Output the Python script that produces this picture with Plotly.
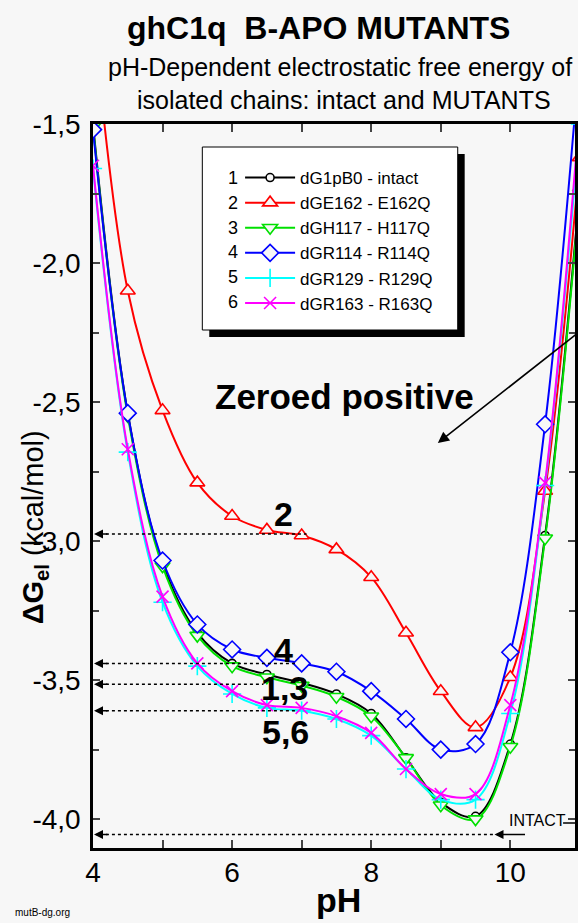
import plotly.graph_objects as go

# ---------------- data ----------------
ph = [4.0, 4.5, 5.0, 5.5, 6.0, 6.5, 7.0, 7.5, 8.0, 8.5, 9.0, 9.5, 10.0, 10.5, 11.0]

dG_intact = [-1.50, -2.54, -3.08, -3.33, -3.44, -3.48, -3.51, -3.55, -3.62, -3.78, -3.94, -3.99, -3.73, -2.98, -1.73]
dG_E162Q = [-1.10, -2.10, -2.53, -2.79, -2.91, -2.96, -2.98, -3.03, -3.13, -3.33, -3.54, -3.67, -3.49, -2.82, -1.62]
dG_H117Q = [-1.51, -2.55, -3.09, -3.34, -3.45, -3.49, -3.52, -3.56, -3.63, -3.78, -3.95, -4.00, -3.74, -2.99, -1.75]
dG_R114Q = [-1.52, -2.54, -3.07, -3.30, -3.39, -3.42, -3.44, -3.47, -3.54, -3.64, -3.75, -3.73, -3.40, -2.58, -1.25]
dG_R129Q = [-1.66, -2.68, -3.22, -3.45, -3.55, -3.60, -3.61, -3.64, -3.70, -3.82, -3.93, -3.93, -3.62, -2.80, -1.50]
dG_R163Q = [-1.65, -2.67, -3.20, -3.44, -3.54, -3.59, -3.60, -3.63, -3.69, -3.82, -3.91, -3.91, -3.59, -2.79, -1.45]

series_names = ["dG1pB0 - intact", "dGE162 - E162Q", "dGH117 - H117Q",
                "dGR114 - R114Q", "dGR129 - R129Q", "dGR163 - R163Q"]
series_numbers = ["1", "2", "3", "4", "5", "6"]

# marked reference levels (label, value)
level_labels = ["2", "4", "1,3", "5,6"]
level_values = [-2.975, -3.44, -3.515, -3.61]
intact_level = -4.055

x_tickvals = [4, 6, 8, 10]
x_ticktext = ["4", "6", "8", "10"]
y_tickvals = [-1.5, -2.0, -2.5, -3.0, -3.5, -4.0]
y_ticktext = ["-1,5", "-2,0", "-2,5", "-3,0", "-3,5", "-4,0"]

# ---------------- styling ----------------
BG = "#f7f7f7"
FONT = "Liberation Sans, Arial, sans-serif"
W, H = 578, 923
L, R, T, B = 93, 0, 124, 75
XR = [4, 10.93]
YR = [-4.104, -1.5]


def px2x(px):
    return XR[0] + (px - L) / (W - L - R) * (XR[1] - XR[0])


def py2y(py):
    return YR[1] - (py - T) / (H - T - B) * (YR[1] - YR[0])


def px2paper(px):
    return (px - L) / (W - L - R)


def py2paper(py):
    return (H - B - py) / (H - T - B)


styles = [
    dict(color="black", symbol="circle", size=8),
    dict(color="red", symbol="triangle-up", size=13),
    dict(color="#00e000", symbol="triangle-down", size=13),
    dict(color="blue", symbol="diamond", size=13),
    dict(color="cyan", symbol="cross-thin", size=13),
    dict(color="magenta", symbol="x-thin", size=12),
]
data = [dG_intact, dG_E162Q, dG_H117Q, dG_R114Q, dG_R129Q, dG_R163Q]

fig = go.Figure()
for name, ys, st in zip(series_names, data, styles):
    thin = st["symbol"].endswith("thin")
    fig.add_trace(go.Scatter(
        x=ph, y=ys, name=name, mode="lines+markers",
        line=dict(color=st["color"], width=2, shape="spline", smoothing=1.0),
        marker=dict(symbol=st["symbol"], size=st["size"],
                    color=st["color"] if thin else BG,
                    line=dict(color=st["color"], width=1.6)),
    ))

shapes = []
annotations = []

# legend box with shadow
shapes.append(dict(type="rect", xref="paper", yref="paper",
                   x0=px2paper(210), x1=px2paper(467), y0=py2paper(337), y1=py2paper(154),
                   fillcolor="black", line=dict(width=0), layer="above"))
shapes.append(dict(type="rect", xref="paper", yref="paper",
                   x0=px2paper(203), x1=px2paper(460), y0=py2paper(330), y1=py2paper(147),
                   fillcolor="white", line=dict(color="black", width=1), layer="above"))

# dotted reference lines with arrowheads at the y axis
line_ends = [7.07, 6.93, 6.45, 6.93]
label_px = [(285, 514), (285, 650), (286, 688), (287, 732)]
for lab, val, xe, (lx, ly) in zip(level_labels, level_values, line_ends, label_px):
    shapes.append(dict(type="line", xref="x", yref="y", x0=px2x(106), x1=xe, y0=val, y1=val,
                       line=dict(color="black", width=1.5, dash="dot")))
    annotations.append(dict(x=XR[0], y=val, xref="x", yref="y", text="", showarrow=True,
                            ax=16, ay=0, arrowhead=2, arrowsize=1.2, arrowwidth=1.5,
                            arrowcolor="black", standoff=1))
    annotations.append(dict(text="<b>%s</b>" % lab, x=px2x(lx), y=py2y(ly), xref="x", yref="y",
                            showarrow=False, xanchor="center", yanchor="middle",
                            font=dict(size=34, family=FONT, color="black")))

# INTACT level
shapes.append(dict(type="line", xref="x", yref="y", x0=px2x(106), x1=px2x(497), y0=intact_level,
                   y1=intact_level, line=dict(color="black", width=1.5, dash="dot")))
annotations.append(dict(x=XR[0], y=intact_level, xref="x", yref="y", text="", showarrow=True,
                        ax=16, ay=0, arrowhead=2, arrowsize=1.2, arrowwidth=1.5,
                        arrowcolor="black", standoff=1))
annotations.append(dict(x=px2x(497), y=intact_level, xref="x", yref="y", text="", showarrow=True,
                        ax=32, ay=0, arrowhead=2, arrowsize=1.2, arrowwidth=1.5,
                        arrowcolor="black", standoff=0))
annotations.append(dict(text="INTACT", x=px2x(510), y=py2y(820), xref="x", yref="y",
                        showarrow=False, xanchor="left", yanchor="middle",
                        font=dict(size=16, family=FONT, color="black")))
shapes.append(dict(type="line", xref="paper", yref="y", x0=px2paper(566), x1=1.0,
                   y0=py2y(823), y1=py2y(823), line=dict(color="black", width=1.5)))

# Zeroed positive
annotations.append(dict(text="<b>Zeroed positive</b>", x=px2x(346), y=py2y(396), xref="x", yref="y",
                        showarrow=False, xanchor="center", yanchor="middle",
                        font=dict(size=35, family=FONT, color="black")))
annotations.append(dict(x=px2x(440), y=py2y(443), xref="x", yref="y", text="", showarrow=True,
                        ax=140, ay=-110, arrowhead=2, arrowsize=1.4, arrowwidth=1.6,
                        arrowcolor="black", standoff=0))

# legend numbers
for i, num in enumerate(series_numbers):
    annotations.append(dict(text=num, xref="paper", yref="paper",
                            x=px2paper(241), y=py2paper(178 + 24.8 * i),
                            xanchor="right", yanchor="middle", showarrow=False,
                            font=dict(size=18, family=FONT, color="black")))

# titles
annotations.append(dict(text="<b>ghC1q  B-APO MUTANTS</b>", xref="paper", yref="paper",
                        x=px2paper(320), y=py2paper(28), xanchor="center", yanchor="middle",
                        showarrow=False, font=dict(size=32, family=FONT, color="black")))
annotations.append(dict(text="pH-Dependent electrostatic free energy of", xref="paper", yref="paper",
                        x=px2paper(342), y=py2paper(67), xanchor="center", yanchor="middle",
                        showarrow=False, font=dict(size=25, family=FONT, color="black")))
annotations.append(dict(text="isolated chains: intact and MUTANTS", xref="paper", yref="paper",
                        x=px2paper(346), y=py2paper(100), xanchor="center", yanchor="middle",
                        showarrow=False, font=dict(size=25, family=FONT, color="black")))
annotations.append(dict(text="<b>pH</b>", xref="paper", yref="paper",
                        x=px2paper(340), y=py2paper(900), xanchor="center", yanchor="middle",
                        showarrow=False, font=dict(size=34, family=FONT, color="black")))
annotations.append(dict(text="<b>ΔG<sub>el</sub></b> (kcal/mol)", xref="paper", yref="paper",
                        x=px2paper(35), y=py2paper(527), xanchor="center", yanchor="middle",
                        textangle=-90, showarrow=False,
                        font=dict(size=29, family=FONT, color="black")))
annotations.append(dict(text="mutB-dg.org", xref="paper", yref="paper",
                        x=px2paper(12), y=py2paper(912), xanchor="left", yanchor="middle",
                        showarrow=False, font=dict(size=10, family=FONT, color="black")))

fig.update_layout(
    width=W, height=H,
    margin=dict(l=L, r=R, t=T, b=B, pad=0),
    paper_bgcolor=BG, plot_bgcolor=BG,
    font=dict(family=FONT, color="black"),
    showlegend=True,
    legend=dict(x=px2paper(241), y=py2paper(160), xanchor="left", yanchor="top",
                bgcolor="rgba(0,0,0,0)", borderwidth=0, itemwidth=50,
                font=dict(size=17, family=FONT, color="black"),
                tracegroupgap=0),
    shapes=shapes,
    annotations=annotations,
    xaxis=dict(range=XR, tickvals=x_tickvals, ticktext=x_ticktext, ticks="inside", ticklen=8,
               tickwidth=2, showline=True, linewidth=2.5, linecolor="black", mirror="ticks",
               showgrid=False, zeroline=False,
               minor=dict(dtick=1, tick0=4, ticks="inside", ticklen=8, tickwidth=2, showgrid=False),
               tickfont=dict(size=28, family=FONT), ticklabelstandoff=-2),
    yaxis=dict(range=YR, tickvals=y_tickvals, ticktext=y_ticktext, ticks="inside", ticklen=7,
               tickwidth=2, showline=True, linewidth=2.5, linecolor="black", mirror="ticks",
               showgrid=False, zeroline=False,
               minor=dict(dtick=0.25, tick0=-1.5, ticks="inside", ticklen=6, tickwidth=2, showgrid=False),
               tickfont=dict(size=28, family=FONT), ticklabelstandoff=4),
)

fig.write_html(
    "out.html",
    config={"displayModeBar": False},
    post_script="document.body.style.margin='0';document.body.style.background='%s';" % BG,
)
